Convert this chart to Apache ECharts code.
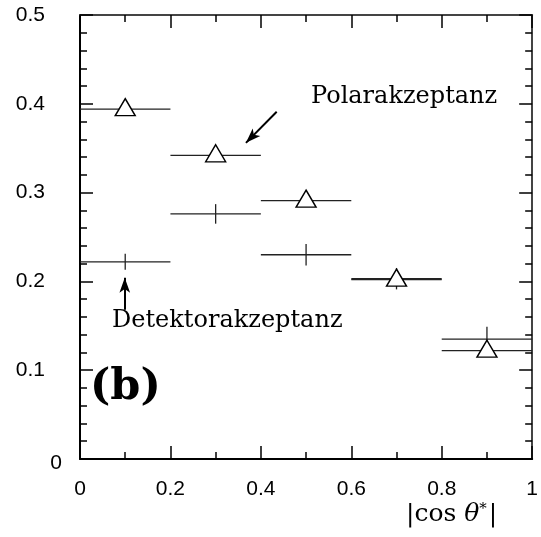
<!DOCTYPE html>
<html>
<head>
<meta charset="utf-8">
<script src="https://cdn.jsdelivr.net/npm/echarts@6/dist/echarts.min.js"></script>
<style>
  html, body { margin: 0; padding: 0; background: #fff; }
  #main { width: 541px; height: 537px; }
</style>
</head>
<body>
<div id="main"></div>
<script>
// bins in |cos theta*|
var binLo = [0, 0.2, 0.4, 0.6, 0.8];
var binHi = [0.2, 0.4, 0.6, 0.8, 1.0];
var binMid = [0.1, 0.3, 0.5, 0.7, 0.9];
// Polarakzeptanz (triangles)
var polarVals = [0.394, 0.342, 0.291, 0.202, 0.122];
// Detektorakzeptanz (crosses)
var detVals = [0.222, 0.276, 0.230, 0.203, 0.135];
var detErr = [0.009, 0.011, 0.012, 0.012, 0.014];

var myChart = echarts.init(document.getElementById('main'));

var detData = [], polarData = [], polarPts = [];
for (var i = 0; i < binMid.length; i++) {
  detData.push([binLo[i], binHi[i], binMid[i], detVals[i], detErr[i]]);
  polarData.push([binLo[i], binHi[i], binMid[i], polarVals[i], 0]);
  polarPts.push([binMid[i], polarVals[i]]);
}

//横线 + 误差棒
function barItem(params, api) {
  var lo = api.coord([api.value(0), api.value(3)]);
  var hi = api.coord([api.value(1), api.value(3)]);
  var children = [{
    type: 'line',
    shape: { x1: lo[0], y1: lo[1], x2: hi[0], y2: hi[1] },
    style: { stroke: '#222', lineWidth: 1.3 }
  }];
  var e = api.value(4);
  if (e > 0) {
    var top = api.coord([api.value(2), api.value(3) + e]);
    var bot = api.coord([api.value(2), api.value(3) - e]);
    children.push({
      type: 'line',
      shape: { x1: top[0], y1: top[1], x2: bot[0], y2: bot[1] },
      style: { stroke: '#222', lineWidth: 1.3 }
    });
  }
  return { type: 'group', children: children };
}

var tickStyle = { color: '#000', width: 1.5 };

function makeX(pos, showLabel) {
  return {
    type: 'value', min: 0, max: 1, interval: 0.2, position: pos,
    axisLine: { onZero: false, lineStyle: { color: pos === 'top' ? '#444' : '#000', width: 2 } },
    axisTick: { inside: true, length: 13, lineStyle: tickStyle },
    minorTick: { show: true, splitNumber: 2, length: 7, lineStyle: tickStyle },
    splitLine: { show: false },
    axisLabel: {
      show: showLabel, margin: 20,
      color: '#000', fontSize: 21, fontFamily: 'Liberation Sans'
    }
  };
}

function makeY(pos, showLabel) {
  return {
    type: 'value', min: 0, max: 0.5, interval: 0.1, position: pos,
    axisLine: { onZero: false, lineStyle: { color: pos === 'right' ? '#444' : '#000', width: 2 } },
    axisTick: { inside: true, length: 13, lineStyle: tickStyle },
    minorTick: { show: true, splitNumber: 5, length: 7, lineStyle: tickStyle },
    splitLine: { show: false },
    axisLabel: {
      show: showLabel, margin: 18,
      color: '#000', fontSize: 21, fontFamily: 'Liberation Sans',
      formatter: function (v) {
        return v === 0 ? '{z|0}' : '{n|' + v + '}';
      },
      rich: {
        z: { fontSize: 21, fontFamily: 'Liberation Sans', color: '#000', padding: [8, 0, 0, 0] },
        n: { fontSize: 21, fontFamily: 'Liberation Sans', color: '#000', padding: [0, 17, 0, 0] }
      }
    }
  };
}

var option = {
  animation: false,
  backgroundColor: '#fff',
  grid: { left: 80, top: 15, right: 6, bottom: 78 },
  xAxis: [makeX('bottom', true), makeX('top', false)],
  yAxis: [makeY('left', true), makeY('right', false)],
  series: [
    {
      name: 'Detektorakzeptanz',
      type: 'custom',
      renderItem: barItem,
      data: detData,
      z: 2
    },
    {
      name: 'Polarakzeptanz',
      type: 'custom',
      renderItem: barItem,
      data: polarData,
      z: 2
    },
    {
      name: 'Polarakzeptanz Marker',
      type: 'scatter',
      symbol: 'triangle',
      symbolSize: [20, 17],
      symbolOffset: [0, -2],
      itemStyle: { color: '#fff', borderColor: '#000', borderWidth: 1.4, opacity: 1 },
      data: polarPts,
      z: 3,
      markLine: {
        silent: true,
        symbol: ['none', 'arrow'],
        symbolSize: [8, 15],
        label: { show: false },
        lineStyle: { color: '#000', width: 2, type: 'solid' },
        data: [
          [{ coord: [0.435, 0.391] }, { coord: [0.367, 0.356] }],
          [{ coord: [0.099, 0.168] }, { coord: [0.099, 0.204] }]
        ]
      }
    }
  ],
  graphic: [
    {
      type: 'text', left: 311, top: 85,
      style: { text: 'Polarakzeptanz', fontSize: 24, fontFamily: 'DejaVu Serif', fill: '#000' }
    },
    {
      type: 'text', left: 112, top: 309,
      style: { text: 'Detektorakzeptanz', fontSize: 24, fontFamily: 'DejaVu Serif', fill: '#000' }
    },
    {
      type: 'text', left: 90, top: 366,
      style: { text: '(b)', fontSize: 43, fontWeight: 'bold', fontFamily: 'DejaVu Serif', fill: '#000' }
    },
    {
      type: 'text', left: 406, top: 502,
      style: {
        text: '|cos {t|θ}{s|*}|',
        fontSize: 25, fontFamily: 'DejaVu Serif', fill: '#000',
        rich: {
          t: { fontSize: 25, fontFamily: 'DejaVu Serif', fontStyle: 'italic', fill: '#000' },
          s: { fontSize: 15, fontFamily: 'DejaVu Serif', fill: '#000', verticalAlign: 'top', padding: [0, 2, 10, 0] }
        }
      }
    }
  ]
};

myChart.setOption(option);
</script>
</body>
</html>
